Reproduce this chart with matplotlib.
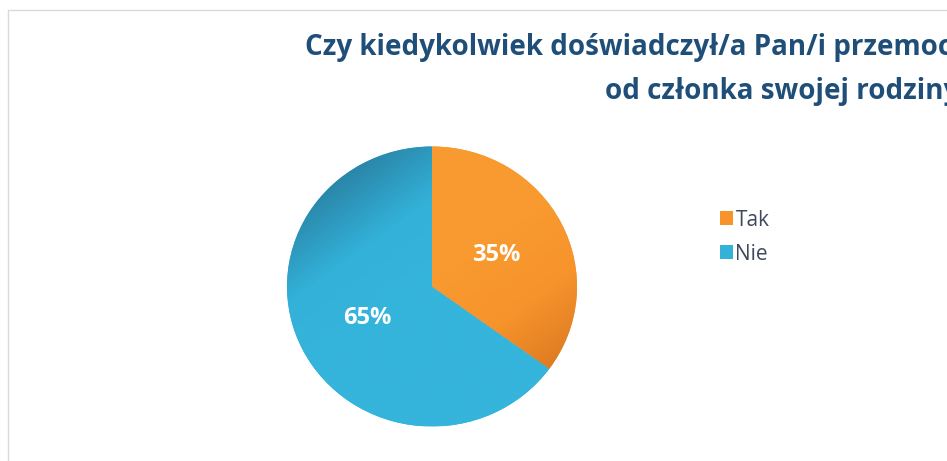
import numpy as np
import matplotlib
matplotlib.use('Agg')
import matplotlib.pyplot as plt
from matplotlib.patches import Rectangle
from matplotlib.colors import LinearSegmentedColormap

labels = ['Tak', 'Nie']
values = [35, 65]
colors = ['#F7932B', '#33B1D9']
title_l1 = 'Czy kiedykolwiek doświadczył/a Pan/i przemocy'
title_l2 = 'od członka swojej rodziny?'

W, H = 947, 461
fig = plt.figure(figsize=(W / 100, H / 100), dpi=100)
fig.patch.set_facecolor('white')

# thin frame, cut off on the right and bottom like the screenshot
fig.patches.append(Rectangle((8 / W, -0.1), 1.2, (H - 10) / H + 0.1, transform=fig.transFigure,
                             fill=False, edgecolor='#D9D9D9', lw=1))

cx, cy, rx, ry = 432, H - 286.5, 145, 140
ax = fig.add_axes([(cx - rx) / W, (cy - ry) / H, 2 * rx / W, 2 * ry / H])
wedges, _, autotexts = ax.pie(values, colors=colors, startangle=90, counterclock=False,
                              autopct='%d%%', pctdistance=0.5,
                              textprops=dict(color='white', fontsize=17, fontweight='bold',
                                             family='Open Sans'))
ax.set_xlim(-1, 1)
ax.set_ylim(-1, 1)
ax.set_aspect('auto')
ax.axis('off')

# soft shading on the slices
xx, yy = np.meshgrid(np.linspace(-1, 1, 300), np.linspace(-1, 1, 300))
blue_cmap = LinearSegmentedColormap.from_list('b', ['#2A86A8', '#33B1D9', '#35B4DC'])
orange_cmap = LinearSegmentedColormap.from_list('o', ['#F89A30', '#F7932B', '#DC7A22'])
g_blue = 1 - np.clip((-xx * 0.6 + yy * 0.8), 0, 1)
g_orange = np.clip((xx * 0.6 - yy * 0.8), 0, 1)
im1 = ax.imshow(g_blue, cmap=blue_cmap, extent=(-1, 1, -1, 1), origin='lower', zorder=1.5,
                aspect='auto')
im1.set_clip_path(wedges[1])
im2 = ax.imshow(g_orange, cmap=orange_cmap, extent=(-1, 1, -1, 1), origin='lower', zorder=1.5,
                aspect='auto')
im2.set_clip_path(wedges[0])
for t in autotexts:
    t.set_zorder(3)

title_kw = dict(color='#1F4E79', fontsize=20, fontweight='bold', family='Open Sans',
                va='center', ha='left')
fig.text(305 / W, 1 - 48 / H, title_l1, **title_kw)
fig.text(605 / W, 1 - 91 / H, title_l2, **title_kw)

leg = fig.legend(wedges, labels, loc='upper left', bbox_to_anchor=(701 / W, 1 - 191 / H),
                 frameon=False, handlelength=0.65, handleheight=0.65, handletextpad=0.1,
                 labelspacing=0.62, prop=dict(family='Open Sans', size=15))
for t in leg.get_texts():
    t.set_color('#3E4A5E')

fig.savefig('out.png', dpi=100, facecolor='white')
